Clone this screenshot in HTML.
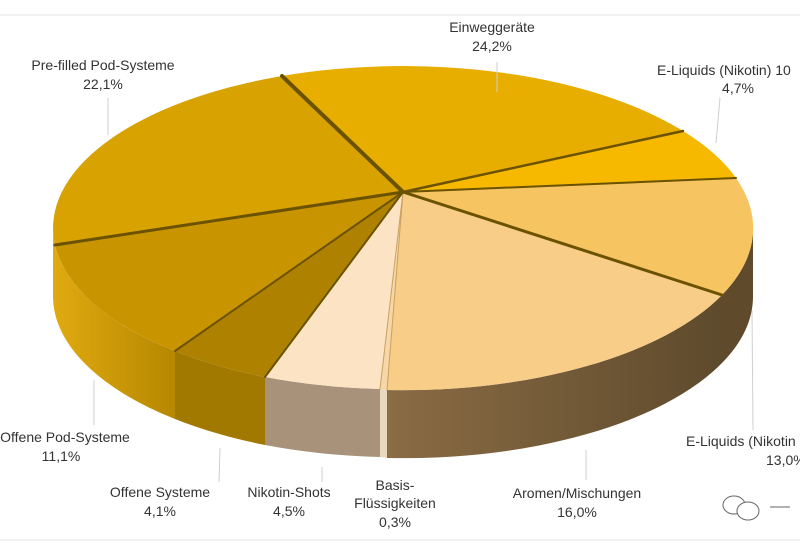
<!DOCTYPE html>
<html><head><meta charset="utf-8"><style>
html,body{margin:0;padding:0;background:#fff;}
svg{display:block;}
text{font-family:"Liberation Sans",sans-serif;font-size:14px;fill:#333;text-anchor:middle;}
</style></head><body>
<svg width="800" height="551" viewBox="0 0 800 551">
<defs>
<linearGradient id="sideL" x1="0" x2="1" y1="0" y2="0"><stop offset="0" stop-color="#e0aa10"/><stop offset="1" stop-color="#b68700"/></linearGradient>
<linearGradient id="sideR" x1="0" x2="1" y1="0" y2="0"><stop offset="0" stop-color="#8a6c45"/><stop offset="1" stop-color="#5e4a2c"/></linearGradient>
</defs>
<line x1="0" y1="15" x2="800" y2="15" stroke="#e6e6e6"/>
<line x1="0" y1="540" x2="800" y2="540" stroke="#e6e6e6"/>
<!-- sides -->
<path d="M53,228 A350,162 0 0 0 175,351 L175,419 A350,162 0 0 1 53,296 Z" fill="url(#sideL)"/>
<path d="M175,351 A350,162 0 0 0 265,377 L265,445 A350,162 0 0 1 175,419 Z" fill="#a17800"/>
<path d="M265,377 A350,162 0 0 0 380,389 L380,457 A350,162 0 0 1 265,445 Z" fill="#a8937a"/>
<path d="M380,389 A350,162 0 0 0 387,390 L387,458 A350,162 0 0 1 380,457 Z" fill="#e8d8bd"/>
<path d="M387,390 A350,162 0 0 0 722,295 L722,363 A350,162 0 0 1 387,458 Z" fill="url(#sideR)"/>
<path d="M722,295 A350,162 0 0 0 753,228 L753,296 A350,162 0 0 1 722,363 Z" fill="#5f4a2b"/>
<!-- tops -->
<path d="M403,192 L282,76 A350,162 0 0 1 683,131 Z" fill="#e7ae00"/>
<path d="M403,192 L683,131 A350,162 0 0 1 736,178 Z" fill="#f6b900"/>
<path d="M403,192 L736,178 A350,162 0 0 1 722,295 Z" fill="#f7c462"/>
<path d="M403,192 L722,295 A350,162 0 0 1 387,390 Z" fill="#f8cd88"/>
<path d="M403,192 L387,390 A350,162 0 0 1 380,389 Z" fill="#f6d7a8"/>
<path d="M403,192 L380,389 A350,162 0 0 1 265,377 Z" fill="#fbe3c4"/>
<path d="M403,192 L265,377 A350,162 0 0 1 175,351 Z" fill="#ae8200"/>
<path d="M403,192 L175,351 A350,162 0 0 1 55,245 Z" fill="#c89500"/>
<path d="M403,192 L55,245 A350,162 0 0 1 282,76 Z" fill="#d8a200"/>
<g stroke="#6b5200" stroke-linecap="round">
<line x1="403" y1="192" x2="282" y2="76" stroke-width="4"/>
<line x1="403" y1="192" x2="683" y2="131" stroke-width="2.5"/>
<line x1="403" y1="192" x2="736" y2="178" stroke-width="2"/>
<line x1="403" y1="192" x2="722" y2="295" stroke-width="3"/>
<line x1="403" y1="192" x2="387" y2="390" stroke-width="1" stroke="#c9a060"/>
<line x1="403" y1="192" x2="380" y2="389" stroke-width="1" stroke="#c9a060"/>
<line x1="403" y1="192" x2="265" y2="377" stroke-width="2"/>
<line x1="403" y1="192" x2="175" y2="351" stroke-width="2"/>
<line x1="403" y1="192" x2="55" y2="245" stroke-width="3"/>
</g>
<!-- leader lines -->
<g stroke="#cfcfcf" stroke-width="1">
<line x1="497" y1="62" x2="497" y2="92"/>
<line x1="720" y1="98" x2="716" y2="143"/>
<line x1="108" y1="98" x2="108" y2="135"/>
<line x1="94" y1="380" x2="94" y2="425"/>
<line x1="220" y1="448" x2="219" y2="482"/>
<line x1="322" y1="467" x2="322" y2="482"/>
<line x1="586" y1="450" x2="586" y2="480"/>
<line x1="752" y1="310" x2="753" y2="430"/>
</g>
<text x="492" y="32">Einweggeräte</text>
<text x="492" y="51">24,2%</text>
<text x="103" y="70">Pre-filled Pod-Systeme</text>
<text x="103" y="89">22,1%</text>
<text x="657" y="75" style="text-anchor:start">E-Liquids (Nikotin) 10</text>
<text x="738" y="93">4,7%</text>
<text x="65" y="442">Offene Pod-Systeme</text>
<text x="61" y="461">11,1%</text>
<text x="160" y="497">Offene Systeme</text>
<text x="160" y="516">4,1%</text>
<text x="289" y="497">Nikotin-Shots</text>
<text x="289" y="516">4,5%</text>
<text x="395" y="490">Basis-</text>
<text x="395" y="508">Flüssigkeiten</text>
<text x="395" y="527">0,3%</text>
<text x="577" y="498">Aromen/Mischungen</text>
<text x="577" y="517">16,0%</text>
<text x="686" y="446" style="text-anchor:start">E-Liquids (Nikotin</text>
<text x="766" y="465" style="text-anchor:start">13,0%</text>
<g fill="none" stroke="#666" stroke-width="1">
<ellipse cx="734" cy="505" rx="11" ry="9"/>
<ellipse cx="748" cy="511" rx="11" ry="9" fill="#fff"/>
<line x1="770" y1="507" x2="790" y2="507"/>
</g>
</svg>
</body></html>
